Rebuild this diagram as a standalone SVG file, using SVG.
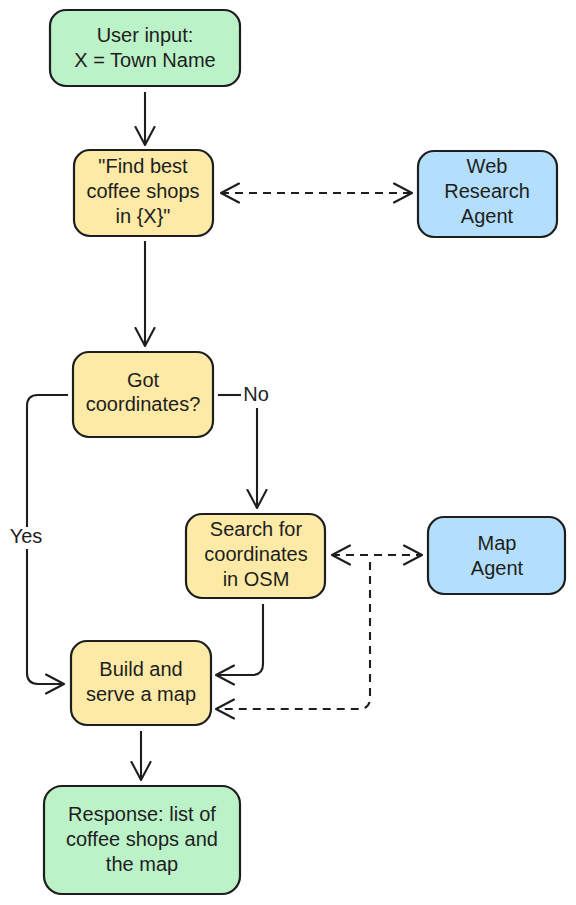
<svg xmlns="http://www.w3.org/2000/svg" width="576" height="905" viewBox="0 0 576 905">
<style>
.box{stroke:#1e1e1e;stroke-width:2.2}
.g{fill:#bcf2c8}
.y{fill:#fdeaa6}
.b{fill:#b4dffc}
text{font-family:"Liberation Sans",Arial,sans-serif;font-size:20px;fill:#1e1e1e;text-anchor:middle;dominant-baseline:middle}
.c{fill:none;stroke:#1e1e1e;stroke-width:2.1}
.d{stroke-dasharray:8 6}
</style>
<defs>
<marker id="ah" markerUnits="userSpaceOnUse" viewBox="0 0 20 22" refX="19" refY="11" markerWidth="20" markerHeight="22" orient="auto-start-reverse">
<path d="M1,1.5 L19,11 L1,20.5" fill="none" stroke="#1e1e1e" stroke-width="2.1" stroke-linecap="round" stroke-linejoin="round"/>
</marker>
</defs>
<g id="connectors">
<path class="c" d="M145,92 V145" marker-end="url(#ah)"/>
<path class="c d" d="M221,193 H412" marker-start="url(#ah)" marker-end="url(#ah)"/>
<path class="c" d="M145,241 V346" marker-end="url(#ah)"/>
<path class="c" d="M68,395 H38 Q27,395 27,406 V673 Q27,684 38,684 H64" marker-end="url(#ah)"/>
<rect x="8" y="527" width="36" height="22" fill="#ffffff"/>
<path class="c" d="M218,395 H241"/>
<path class="c" d="M257,408 V508" marker-end="url(#ah)"/>
<path class="c" d="M263,604 V664 Q263,675 252,675 H216" marker-end="url(#ah)"/>
<path class="c d" d="M332,555 H422" marker-start="url(#ah)" marker-end="url(#ah)"/>
<path class="c d" d="M370,562 V698 Q370,709 359,709 H216" marker-end="url(#ah)"/>
<path class="c" d="M141,731 V780" marker-end="url(#ah)"/>
<text x="256" y="396" font-size="18">No</text>
<text x="26" y="538" font-size="18">Yes</text>
</g>
<g id="user-input">
<rect class="box g" x="50" y="10" width="190" height="76" rx="16"/>
<text x="145" y="37">User input:</text>
<text x="145" y="62">X = Town Name</text>
</g>
<g id="find-coffee">
<rect class="box y" x="74" y="150" width="139" height="86" rx="16"/>
<text x="143" y="168">"Find best</text>
<text x="143" y="193">coffee shops</text>
<text x="143" y="218">in {X}"</text>
</g>
<g id="web-agent">
<rect class="box b" x="418" y="151" width="139" height="86" rx="16"/>
<text x="487" y="168">Web</text>
<text x="487" y="193">Research</text>
<text x="487" y="218">Agent</text>
</g>
<g id="got-coordinates">
<rect class="box y" x="73" y="352" width="140" height="85" rx="16"/>
<text x="143" y="382">Got</text>
<text x="143" y="406">coordinates?</text>
</g>
<g id="search-osm">
<rect class="box y" x="186" y="514" width="139" height="84" rx="16"/>
<text x="256" y="531">Search for</text>
<text x="256" y="556">coordinates</text>
<text x="256" y="581">in OSM</text>
</g>
<g id="map-agent">
<rect class="box b" x="428" y="517" width="137" height="77" rx="16"/>
<text x="497" y="545">Map</text>
<text x="497" y="570">Agent</text>
</g>
<g id="build-map">
<rect class="box y" x="71" y="641" width="140" height="84" rx="16"/>
<text x="141" y="671">Build and</text>
<text x="141" y="696">serve a map</text>
</g>
<g id="response">
<rect class="box g" x="44" y="786" width="196" height="108" rx="18"/>
<text x="142" y="816">Response: list of</text>
<text x="142" y="841">coffee shops and</text>
<text x="142" y="866">the map</text>
</g>
</svg>
